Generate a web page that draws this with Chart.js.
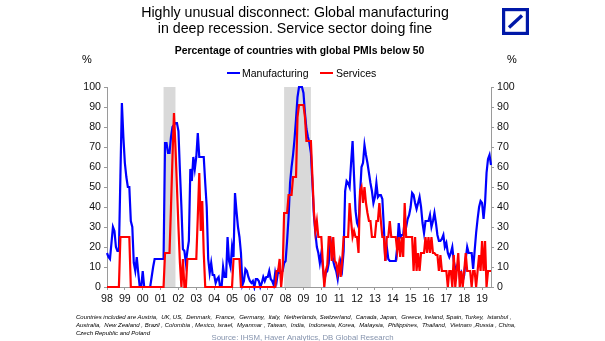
<!DOCTYPE html>
<html>
<head>
<meta charset="utf-8">
<script src="https://cdn.jsdelivr.net/npm/chart.js@4.4.0/dist/chart.umd.min.js"></script>
<style>
  body { margin: 0; background: #fff; font-family: "Liberation Sans", Arial, sans-serif; }
  #wrap { position: relative; width: 605px; height: 341px; overflow: hidden; }
  #chart { position: absolute; left: 0; top: 0; }
  .txt { position: absolute; white-space: pre; color: #000; }
  .title { left: 0; width: 590px; top: 4px; text-align: center; font-size: 14.2px; line-height: 16px; }
  .subtitle { left: 0; width: 599px; top: 46px; text-align: center; font-size: 10.4px; line-height: 10.4px; font-weight: bold; }
  .pct { top: 53.7px; font-size: 11px; line-height: 11px; }
  .legend { top: 67.9px; font-size: 10.5px; line-height: 10.5px; }
  .swatch { position: absolute; top: 72px; height: 2px; width: 13px; }
  .note { left: 76px; font-size: 6px; line-height: 6px; font-style: italic; }
  .source { left: 0; width: 605px; top: 333.5px; text-align: center; font-size: 7.8px; line-height: 7.8px; color: #8593ad; }
  #logo { position: absolute; left: 502px; top: 8px; }
</style>
</head>
<body>
<div id="wrap">
  <canvas id="chart" width="605" height="341"></canvas>

  <div class="txt title">Highly unusual disconnect: Global manufacturing
in deep recession. Service sector doing fine</div>
  <svg id="logo" width="27" height="27" viewBox="0 0 27 27">
    <rect x="1.6" y="1.6" width="23.8" height="23.8" fill="none" stroke="#0018a8" stroke-width="3.2"/>
    <line x1="7" y1="19.5" x2="20" y2="7.5" stroke="#0018a8" stroke-width="3.4"/>
  </svg>
  <div class="txt subtitle">Percentage of countries with global PMIs below 50</div>
  <div class="txt pct" style="left:82px">%</div>
  <div class="txt pct" style="left:507px">%</div>

  <div class="swatch" style="left:227px;background:#0000ff"></div>
  <div class="txt legend" style="left:242px">Manufacturing</div>
  <div class="swatch" style="left:320px;background:#ff0000"></div>
  <div class="txt legend" style="left:336px">Services</div>

  <div class="txt note" style="top:313.5px">Countries included are Austria,  UK, US,  Denmark,  France,  Germany,  Italy,  Netherlands, Switzerland,  Canada, Japan,  Greece, Ireland, Spain, Turkey,  Istanbul ,</div>
  <div class="txt note" style="top:321.5px">Australia,  New Zealand , Brazil , Colombia , Mexico, Israel,  Myanmar , Taiwan,  India,  Indonesia, Korea,  Malaysia,  Philippines,  Thailand,  Vietnam ,Russia , China,</div>
  <div class="txt note" style="top:329.5px">Czech Republic and Poland</div>
  <div class="txt source">Source: IHSM, Haver Analytics, DB Global Research</div>
</div>

<script>
// monthly share of countries with PMI below 50, Jan 1998 - Jul 2019
const startYear = 1998;

const manufacturing = [
  17, 15, 14, 22, 30, 28, 20, 18, 18, 55, 92, 75,   // 1998
  62, 55, 50, 50, 33, 30, 12, 8, 15, 7, 0, 0,       // 1999
  8, 0, 0, 0, 0, 0, 5, 10, 14, 14, 14, 14,          // 2000
  14, 14, 14, 72, 72, 67, 67, 75, 80, 81, 82, 82,   // 2001
  78, 58, 40, 19, 18, 12, 18, 23, 59, 53, 65, 59,   // 2002
  65, 77, 65, 65, 65, 65, 52, 40, 14, 7, 12, 6,     // 2003
  6, 2, 4, 5, 0, 0, 10, 5, 5, 25, 13, 10,           // 2004
  20, 15, 47, 38, 30, 25, 17, 1, 3, 9, 8, 5,        // 2005
  3, 2, 3, 0, 4, 4, 3, 0, 2, 5, 3, 5,               // 2006
  5, 8, 4, 3, 1, 7, 3, 8, 7, 7, 8, 12,              // 2007
  13, 23, 35, 52, 60, 66, 74, 84, 95, 100, 100, 100, // 2008
  97, 87, 79, 75, 72, 67, 52, 36, 27, 20, 17, 12,   // 2009
  17, 10, 3, 7, 8, 12, 25, 18, 13, 10, 8, 4,        // 2010
  10, 13, 9, 18, 48, 53, 52, 50, 62, 73, 55, 38,    // 2011
  32, 30, 46, 60, 62, 71, 66, 62, 57, 52, 48, 42,   // 2012
  45, 52, 45, 46, 46, 44, 30, 13, 20, 14, 13, 13,   // 2013
  13, 13, 13, 20, 32, 25, 26, 26, 33, 30, 34, 36,   // 2014
  40, 47, 46, 42, 39, 42, 45, 40, 32, 27, 33, 33,   // 2015
  33, 36, 30, 33, 37, 32, 26, 23, 23, 24, 26, 20,   // 2016
  22, 17, 15, 17, 20, 13, 9, 10, 12, 5, 7, 3,       // 2017
  6, 14, 20, 17, 17, 17, 9, 18, 27, 34, 40, 43,     // 2018
  42, 34, 42, 57, 64, 66, 61                        // 2019
];

const services = [
  0, 0, 0, 0, 0, 0, 0, 0, 0, 25, 25, 25,            // 1998
  25, 25, 25, 25, 0, 0, 0, 0, 0, 0, 0, 0,           // 1999
  0, 0, 0, 0, 0, 0, 0, 0, 0, 0, 0, 0,               // 2000
  0, 0, 0, 17, 17, 17, 17, 40, 65, 87, 70, 50,      // 2001
  30, 12, 0, 14, 0, 0, 14, 14, 14, 14, 14, 14,      // 2002
  14, 35, 57, 28, 43, 17, 0, 0, 0, 0, 0, 0,         // 2003
  0, 0, 0, 0, 0, 0, 0, 0, 0, 0, 0, 0,               // 2004
  0, 14, 14, 14, 14, 14, 0, 0, 0, 0, 0, 0,          // 2005
  0, 0, 0, 0, 0, 0, 0, 0, 0, 0, 0, 0,               // 2006
  0, 0, 0, 0, 0, 0, 8, 8, 14, 0, 8, 37,             // 2007
  37, 37, 46, 46, 46, 55, 55, 55, 85, 91, 91, 91,   // 2008
  91, 85, 73, 73, 73, 73, 55, 38, 28, 33, 25, 25,   // 2009
  25, 12, 0, 8, 11, 25, 25, 13, 25, 13, 12, 7,      // 2010
  12, 5, 13, 25, 25, 25, 25, 42, 33, 25, 28, 25,    // 2011
  25, 17, 48, 50, 42, 50, 42, 37, 33, 33, 25, 25,   // 2012
  25, 33, 33, 42, 33, 25, 25, 13, 25, 25, 33, 25,   // 2013
  25, 25, 25, 18, 25, 15, 25, 15, 42, 25, 25, 25,   // 2014
  25, 25, 8, 25, 8, 17, 8, 17, 17, 17, 25, 17,      // 2015
  25, 17, 25, 17, 17, 16, 16, 8, 16, 8, 8, 8,       // 2016
  8, 0, 8, 8, 0, 16, 0, 8, 17, 0, 8, 0,             // 2017
  8, 17, 8, 8, 8, 0, 8, 8, 0, 8, 16, 8,             // 2018
  23, 8, 23, 0, 8, 8, 8                             // 2019
];

// US recessions (NBER), first and last month
const recessions = [['2001-03', '2001-11'], ['2007-12', '2009-06']];

const yTicks = [0, 10, 20, 30, 40, 50, 60, 70, 80, 90, 100];

const months = manufacturing.map((_, i) => {
  const y = startYear + Math.floor(i / 12);
  const m = (i % 12) + 1;
  return y + '-' + String(m).padStart(2, '0');
});

const recessionShade = {
  id: 'recessionShade',
  beforeDatasetsDraw(chart) {
    const { ctx, chartArea, scales } = chart;
    ctx.save();
    ctx.fillStyle = '#d9d9d9';
    recessions.forEach(([from, to]) => {
      const x0 = scales.x.getPixelForValue(months.indexOf(from));
      const x1 = scales.x.getPixelForValue(months.indexOf(to));
      ctx.fillRect(x0, chartArea.top, x1 - x0, chartArea.bottom - chartArea.top);
    });
    ctx.restore();
  }
};

const axisFont = { family: '"Liberation Sans", Arial, sans-serif', size: 10.6 };

const yAxis = (position, width) => ({
  type: 'linear',
  position: position,
  min: 0,
  max: 100,
  afterBuildTicks: (scale) => { scale.ticks = yTicks.map(v => ({ value: v })); },
  afterFit: (scale) => { scale.width = width; },
  grid: { drawOnChartArea: false, drawTicks: true, tickLength: 3, color: '#9a9a9a' },
  border: { display: true, color: '#9a9a9a', width: 1 },
  ticks: { color: '#111', font: axisFont, padding: 3 }
});

new Chart(document.getElementById('chart'), {
  type: 'line',
  data: {
    labels: months,
    datasets: [
      {
        label: 'Manufacturing',
        data: manufacturing,
        borderColor: '#0000ff',
        borderWidth: 2.2,
        pointRadius: 0,
        tension: 0,
        clip: 4,
        order: 2
      },
      {
        label: 'Services',
        data: services,
        borderColor: '#ff0000',
        borderWidth: 2.2,
        pointRadius: 0,
        tension: 0,
        clip: 4,
        order: 1
      }
    ]
  },
  options: {
    responsive: false,
    animation: false,
    devicePixelRatio: 1,
    layout: { padding: { top: 87, left: 0, right: 0, bottom: 0 } },
    plugins: { legend: { display: false }, tooltip: { enabled: false } },
    scales: {
      x: {
        type: 'category',
        offset: false,
        afterBuildTicks: (scale) => { scale.ticks = scale.ticks.filter(t => t.value % 12 === 0); },
        afterFit: (scale) => { scale.height = 54; },
        grid: { drawOnChartArea: false, drawTicks: true, tickLength: 3, color: '#9a9a9a' },
        border: { display: true, color: '#9a9a9a', width: 1 },
        ticks: {
          autoSkip: false,
          maxRotation: 0,
          color: '#111',
          font: axisFont,
          padding: 3,
          callback: (value) => String((startYear + value / 12) % 100).padStart(2, '0')
        }
      },
      y: yAxis('left', 107),
      y2: yAxis('right', 114)
    }
  },
  plugins: [recessionShade]
});
</script>
</body>
</html>
